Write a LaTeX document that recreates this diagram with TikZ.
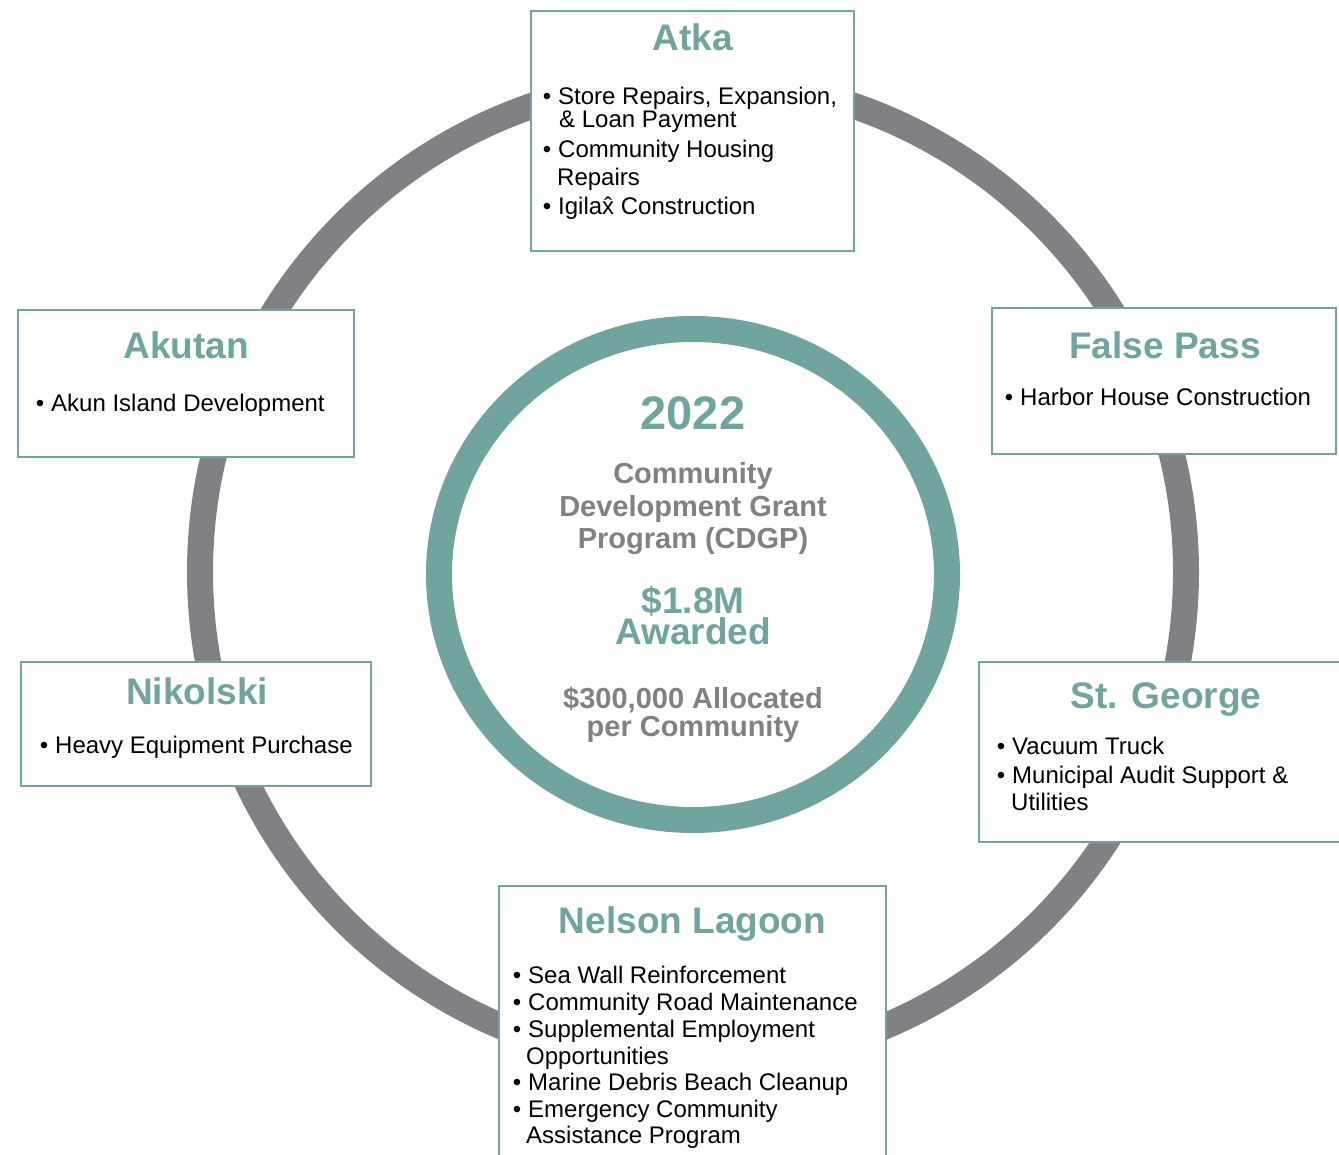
\documentclass[tikz,border=0pt]{standalone}
\usepackage{fontspec}
\setmainfont{Liberation Sans}
\definecolor{teal1}{RGB}{111,164,159}
\definecolor{ring}{RGB}{128,129,133}
\newcommand{\bl}{\llap{\textbullet\hspace{7pt}}}
\begin{document}
\begin{tikzpicture}[x=1pt,y=-1pt,
 box/.style={draw=teal1, line width=2.5pt, fill=white, inner sep=0pt},
 ttl/.style={text=teal1, font=\fontsize{37}{40}\selectfont\bfseries, anchor=base, inner sep=0pt},
 itm/.style={font=\fontsize{24}{26}\selectfont, anchor=base west, inner sep=0pt},
 ctr/.style={text=ring, font=\fontsize{29}{32}\selectfont\bfseries, anchor=base, inner sep=0pt},
 big/.style={text=teal1, font=\fontsize{37}{31}\selectfont\bfseries, anchor=base, inner sep=0pt, align=center},
 year/.style={text=teal1, font=\fontsize{47}{50}\selectfont\bfseries, anchor=base, inner sep=0pt}]
\clip (0,0) rectangle (1339,1155);
\useasboundingbox (0,0) rectangle (1339,1155);
\fill[white] (0,0) rectangle (1339,1155);
% outer gray ring
\coordinate (c) at (693,572);
\draw[ring, line width=26pt] (c) circle (493pt);
% boxes
\node[box, minimum width=323pt, minimum height=240pt] (atka) at (692.5,131) {};
\node[box, minimum width=336pt, minimum height=147pt] (akutan) at (186,383.5) {};
\node[box, minimum width=344pt, minimum height=146pt] (falsepass) at (1164,381) {};
\node[box, minimum width=350pt, minimum height=124pt] (nikolski) at (196,724) {};
\node[box, minimum width=366pt, minimum height=180pt] (stgeorge) at (1162,752) {};
\node[box, minimum width=387pt, minimum height=279pt] (nelson) at (692.5,1025.5) {};
% inner teal ring
\coordinate (c2) at (693,574.5);
\draw[teal1, line width=26pt] (c2) ellipse [x radius=254pt, y radius=245.5pt];
% center text
\node[year] (t2022) at (693,430) {2022};
\node[ctr] (tc1) at (693,483) {Community};
\node[ctr] (tc2) at (693,516) {Development Grant};
\node[ctr] (tc3) at (693,548) {Program (CDGP)};
\node[big] (tb) at (693,644) {\$1.8M\\Awarded};
\node[ctr] (ta1) at (693,708) {\$300,000 Allocated};
\node[ctr] (ta2) at (693,736) {per Community};
% Atka
\node[ttl] (atkat) at (692.5,51) {Atka};
\node[itm] (atka1) at (558,105) {\bl Store Repairs, Expansion,};
\node[itm] (atka2) at (559,128) {\& Loan Payment};
\node[itm] (atka3) at (558,158) {\bl Community Housing};
\node[itm] (atka4) at (557,186) {Repairs};
\node[itm] (atka5) at (558,215) {\bl Igilax̂ Construction};
% Akutan
\node[ttl] (akutant) at (186,359) {Akutan};
\node[itm] (akutan1) at (51,412) {\bl Akun Island Development};
% False Pass
\node[ttl] (falsepasst) at (1165,359) {False Pass};
\node[itm] (falsepass1) at (1020,406) {\bl Harbor House Construction};
% Nikolski
\node[ttl] (nikolskit) at (197,704) {Nikolski};
\node[itm] (nikolski1) at (55,753) {\bl Heavy Equipment Purchase};
% St. George
\node[ttl] (stgeorget) at (1166,708) {St. George};
\node[itm] (stgeorge1) at (1012,754) {\bl Vacuum Truck};
\node[itm] (stgeorge2) at (1012,783) {\bl Municipal Audit Support \&};
\node[itm] (stgeorge3) at (1011,810) {Utilities};
% Nelson Lagoon
\node[ttl] (nelsont) at (692.5,933) {Nelson Lagoon};
\node[itm] (nelson1) at (528,983) {\bl Sea Wall Reinforcement};
\node[itm] (nelson2) at (528,1010) {\bl Community Road Maintenance};
\node[itm] (nelson3) at (528,1037) {\bl Supplemental Employment};
\node[itm] (nelson4) at (526,1064) {Opportunities};
\node[itm] (nelson5) at (528,1090) {\bl Marine Debris Beach Cleanup};
\node[itm] (nelson6) at (528,1117) {\bl Emergency Community};
\node[itm] (nelson7) at (526,1143) {Assistance Program};
\end{tikzpicture}
\end{document}
